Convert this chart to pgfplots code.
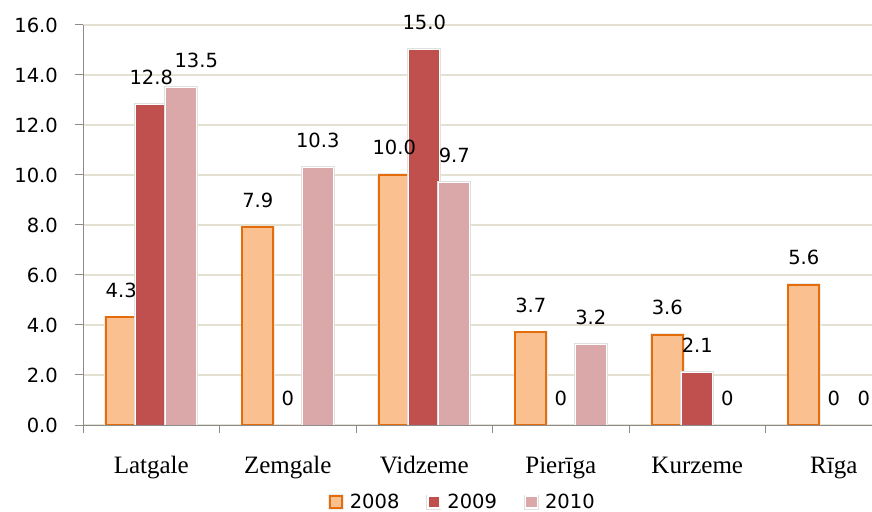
\documentclass[border=0pt]{standalone}
\usepackage{pgfplots}
\pgfplotsset{compat=1.18}
\usepackage{pgfplotstable}
\usepackage{fontspec}
\setmainfont{Liberation Serif}
\newfontfamily\sansf{DejaVu Sans}
\definecolor{c08}{HTML}{FAC090}
\definecolor{c08e}{HTML}{E46C0A}
\definecolor{c09}{HTML}{C0504D}
\definecolor{c10}{HTML}{DAA8A8}
\definecolor{gridc}{HTML}{E4E0D2}
\definecolor{axisc}{HTML}{8C8C8C}
\newcommand{\numfont}{\sansf\fontsize{19.5bp}{22bp}\selectfont}

% 2008 (label offset dx in bp, bars shifted -30bp)
\pgfplotstableread{
x y lab dx
0 4.3 4.3 -30
1 7.9 7.9 -30
2 10.0 10.0 -30
3 3.7 3.7 -30
4 3.6 3.6 -30
5 5.6 5.6 -30
}\tA
% 2009 (non-zero)
\pgfplotstableread{
x y lab dx
0 12.8 12.8 0
2 15.0 15.0 0
4 2.1 2.1 0
}\tB
% 2010 (non-zero, bars shifted +30bp)
\pgfplotstableread{
x y lab dx
0 13.5 13.5 45
1 10.3 10.3 30
2 9.7 9.7 30
3 3.2 3.2 30
}\tC
% zero values (2009 at x, 2010 at x+0.22)
\pgfplotstableread{
x y lab dx
1 0 0 0
3 0 0 0
4.22 0 0 0
5 0 0 0
5.22 0 0 0
}\tZ

\begin{document}
\begin{tikzpicture}
\begin{axis}[
  at={(83bp,87bp)}, anchor=south west,
  scale only axis, width=789bp, height=400bp,
  xmin=-0.5, xmax=5.28, ymin=0, ymax=16,
  axis x line*=bottom, axis y line*=left,
  axis line style={axisc, line width=1bp},
  ytick={0,2,...,16},
  /pgf/number format/.cd, fixed, fixed zerofill, precision=1, assume math mode=true,
  /pgfplots/.cd,
  ymajorgrids, grid style={gridc, line width=1.3bp},
  xtick={0,1,2,3,4,5},
  xticklabels={Latgale, Zemgale, Vidzeme, Pierīga, Kurzeme, Rīga},
  minor xtick={-0.5,0.5,1.5,2.5,3.5,4.5},
  major x tick style={draw=none},
  tick align=outside,
  major tick length=8bp, minor tick length=8bp,
  tick style={axisc, line width=1bp},
  yticklabel style={font=\numfont, anchor=east, inner sep=0pt},
  yticklabel shift=17bp,
  xticklabel style={font=\fontsize{25bp}{28bp}\selectfont, anchor=base, inner sep=0pt, yshift=-40bp},
  nodes near coords,
  point meta=explicit symbolic,
  visualization depends on={\thisrow{dx} \as \dx},
  every node near coord/.append style={font=\numfont, anchor=base, inner sep=0pt, yshift=20bp, xshift=\dx bp, text=black},
  legend columns=3,
  legend style={at={(0.4835,-0.1925)}, anchor=center, draw=none, fill=none,
    inner sep=0pt, font=\numfont, nodes={inner xsep=6bp, inner ysep=0pt, anchor=west},
    /tikz/every even column/.append style={column sep=21bp}},
  legend image code/.code={\draw[#1, line width=1.2bp] (0bp,-6bp) rectangle (12bp,6bp);},
]
\addplot[ybar, bar width=31bp, bar shift=-30bp, fill=c08, draw=c08e, line width=2bp,
  preaction={draw=black!8, line width=3.5bp}]
  table[x=x, y=y, meta=lab] {\tA};
\addlegendentry{2008}
\addplot[ybar, bar width=31bp, bar shift=0bp, fill=c09, draw=white, line width=1bp,
  preaction={draw=black!12, line width=3bp}]
  table[x=x, y=y, meta=lab] {\tB};
\addlegendentry{2009}
\addplot[ybar, bar width=31bp, bar shift=30bp, fill=c10, draw=white, line width=1bp,
  preaction={draw=black!12, line width=3bp}]
  table[x=x, y=y, meta=lab] {\tC};
\addlegendentry{2010}
\addplot[draw=none, mark=none, forget plot]
  table[x=x, y=y, meta=lab] {\tZ};
\end{axis}
\pgfresetboundingbox
\useasboundingbox (0,0) rectangle (872bp,512bp);
\end{tikzpicture}
\end{document}
